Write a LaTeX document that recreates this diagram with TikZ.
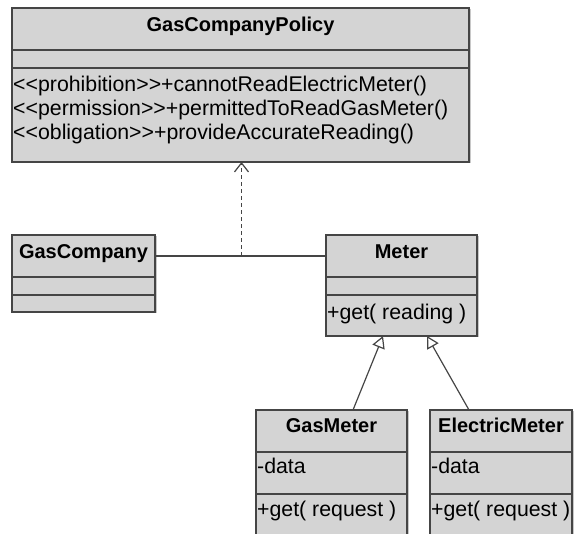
\documentclass[tikz,border=0pt]{standalone}
\usepackage{fontspec}
\setmainfont{Liberation Sans}
\usetikzlibrary{arrows.meta,shadows}
\definecolor{boxgray}{HTML}{D4D4D4}
\definecolor{linegray}{HTML}{454545}
\definecolor{shadowgray}{HTML}{C8C8C8}
\begin{document}
\begin{tikzpicture}[x=1pt,y=-1pt,
  part/.style={draw=linegray, fill=boxgray, line width=1.2pt, inner sep=0pt, outer sep=0pt,
    anchor=north west, rectangle,
    drop shadow={shadow xshift=1.5pt, shadow yshift=-1.5pt, fill=shadowgray, opacity=1}},
  hd/.style={font=\fontsize{20}{24}\selectfont\bfseries, inner sep=0pt, anchor=base},
  txt/.style={font=\fontsize{21.3}{24}\selectfont, inner sep=0pt, anchor=base west},
  conn/.style={draw=linegray, line width=1.2pt}]
\useasboundingbox (0,0) rectangle (574,534);
\clip (0,0) rectangle (574,534);
% GasCompanyPolicy
\node[part, minimum width=457pt, minimum height=42pt] (polh) at (12,8) {};
\node[part, minimum width=457pt, minimum height=18pt] (pola) at (12,50) {};
\node[part, minimum width=457pt, minimum height=94pt] (polo) at (12,68) {};
\node[hd] (polt) at (240.5,32) {GasCompanyPolicy};
\node[txt] (m1) at (13,92) {<{}<prohibition>{}>+cannotReadElectricMeter()};
\node[txt] (m2) at (13,116) {<{}<permission>{}>+permittedToReadGasMeter()};
\node[txt] (m3) at (13,140) {<{}<obligation>{}>+provideAccurateReading()};
% GasCompany
\node[part, minimum width=143pt, minimum height=42pt] (gch) at (12,235) {};
\node[part, minimum width=143pt, minimum height=18pt] (gca) at (12,277) {};
\node[part, minimum width=143pt, minimum height=17pt] (gco) at (12,295) {};
\node[hd] (gct) at (83.5,259) {GasCompany};
% Meter
\node[part, minimum width=151pt, minimum height=42pt] (mh) at (326,235) {};
\node[part, minimum width=151pt, minimum height=18pt] (ma) at (326,277) {};
\node[part, minimum width=151pt, minimum height=41pt] (mo) at (326,295) {};
\node[hd] (mt) at (401.5,259) {Meter};
\node[txt] (mget) at (327,320) {+get( reading )};
% GasMeter
\node[part, minimum width=151pt, minimum height=42pt] (gmh) at (256,410) {};
\node[part, minimum width=151pt, minimum height=42pt] (gma) at (256,452) {};
\node[part, minimum width=151pt, minimum height=60pt] (gmo) at (256,494) {};
\node[hd] (gmt) at (331.5,433) {GasMeter};
\node[txt] (gmd) at (257,474) {-data};
\node[txt] (gmg) at (257,517) {+get( request )};
% ElectricMeter
\node[part, minimum width=142pt, minimum height=42pt] (emh) at (430,410) {};
\node[part, minimum width=142pt, minimum height=42pt] (ema) at (430,452) {};
\node[part, minimum width=142pt, minimum height=60pt] (emo) at (430,494) {};
\node[hd] (emt) at (501,433) {ElectricMeter};
\node[txt] (emd) at (431,474) {-data};
\node[txt] (emg) at (431,517) {+get( request )};
% association
\draw[conn] (gch.east) -- (mh.west);
\coordinate (amid) at (241.5,256);
\draw[conn, dash pattern=on 4pt off 3pt, -{Straight Barb[length=9pt,width=14pt,line width=1.2pt]}]
  (amid) -- (amid |- polo.south);
% generalization
\coordinate (gs) at (353,410);
\coordinate (gt) at (383,336);
\coordinate (es) at (469,410);
\coordinate (et) at (427,336);
\draw[conn, -{Triangle[open,length=12pt,width=13pt]}] (gs) -- (gt);
\draw[conn, -{Triangle[open,length=12pt,width=13pt]}] (es) -- (et);
\end{tikzpicture}
\end{document}
